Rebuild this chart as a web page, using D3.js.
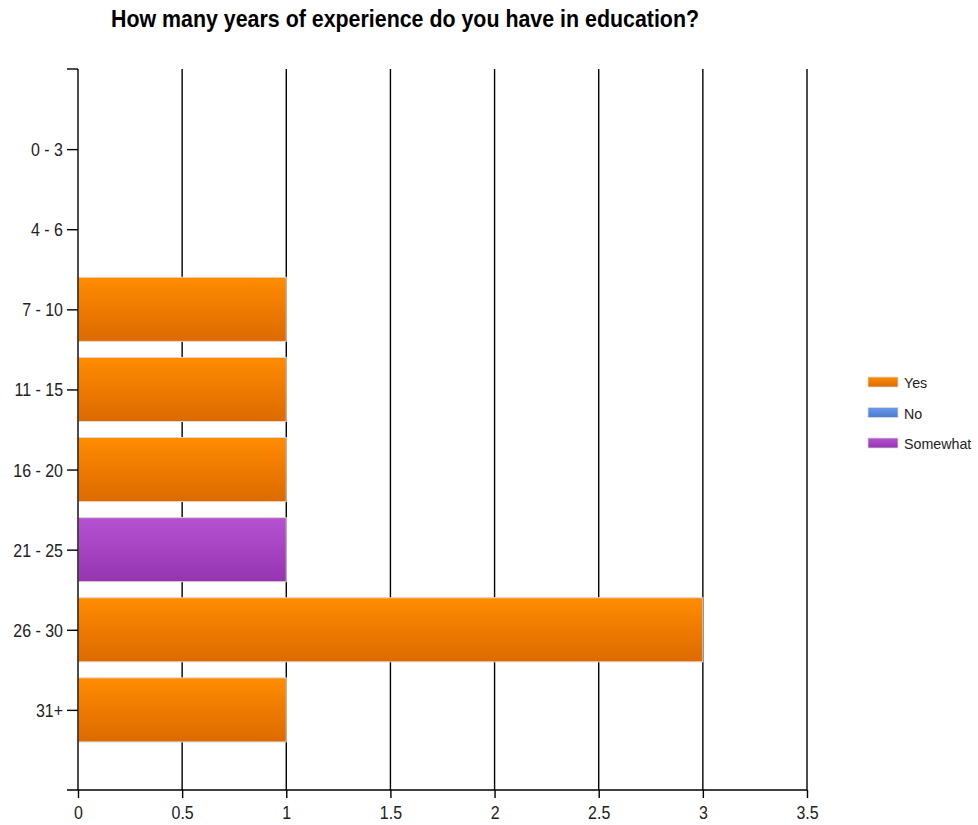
<!DOCTYPE html>
<html>
<head>
<meta charset="utf-8">
<script src="https://cdn.jsdelivr.net/npm/d3@7"></script>
<style>
  body { margin: 0; background: #fff; }
  svg { display: block; }
  text { font-family: "Liberation Sans", Arial, sans-serif; }
</style>
</head>
<body>
<svg id="chart" width="978" height="825"></svg>
<script>
const title = "How many years of experience do you have in education?";
const categories = ["0 - 3", "4 - 6", "7 - 10", "11 - 15", "16 - 20", "21 - 25", "26 - 30", "31+"];
const seriesNames = ["Yes", "No", "Somewhat"];
const yesValues = [0, 0, 1, 1, 1, 0, 3, 1];
const noValues = [0, 0, 0, 0, 0, 0, 0, 0];
const somewhatValues = [0, 0, 0, 0, 0, 1, 0, 0];
const xTicks = [0, 0.5, 1, 1.5, 2, 2.5, 3, 3.5];
const xMax = 3.5;

const colors = {
  Yes: ["#ff8c00", "#dc6a00"],
  No: ["#6a9ae8", "#4a7ad0"],
  Somewhat: ["#b652d2", "#9434b0"]
};

const rows = categories.map((c, i) => ({
  category: c, Yes: yesValues[i], No: noValues[i], Somewhat: somewhatValues[i]
}));

const svg = d3.select("#chart");
const mLeft = 78, mRight = 807, mTop = 69, mBottom = 790;
const squeeze = 0.84;

// horizontally condense text (the reference font is narrow)
function condense(sel, k) {
  sel.each(function () {
    const len = this.getComputedTextLength();
    d3.select(this).attr("textLength", len * k).attr("lengthAdjust", "spacingAndGlyphs");
  });
}

const x = d3.scaleLinear().domain([0, xMax]).range([mLeft, mRight]);
const y = d3.scalePoint().domain(categories).range([mTop, mBottom]).padding(1);
const barH = y.step() * 0.8;

// gradients
const defs = svg.append("defs");
seriesNames.forEach(s => {
  const g = defs.append("linearGradient").attr("id", "grad-" + s)
    .attr("x1", 0).attr("y1", 0).attr("x2", 0).attr("y2", 1);
  g.append("stop").attr("offset", "0%").attr("stop-color", colors[s][0]);
  g.append("stop").attr("offset", "100%").attr("stop-color", colors[s][1]);
});

// title
svg.append("text")
  .attr("x", 405).attr("y", 27)
  .attr("text-anchor", "middle")
  .attr("font-size", "24px").attr("font-weight", "bold")
  .attr("fill", "#000")
  .attr("textLength", 588).attr("lengthAdjust", "spacingAndGlyphs")
  .text(title);

// vertical grid lines
svg.append("g").selectAll("line")
  .data(xTicks.filter(t => t > 0))
  .join("line")
  .attr("x1", d => x(d)).attr("x2", d => x(d))
  .attr("y1", mTop).attr("y2", mBottom)
  .attr("stroke", "#000").attr("stroke-width", 1.4);

// stacked bars
const stack = d3.stack().keys(seriesNames);
const stacked = stack(rows);
const barG = svg.append("g");
stacked.forEach(layer => {
  barG.append("g").selectAll("rect")
    .data(layer.filter(d => d[1] - d[0] > 0))
    .join("rect")
    .attr("x", d => x(d[0]) + 0.5)
    .attr("y", d => y(d.data.category) - barH / 2)
    .attr("width", d => x(d[1]) - x(d[0]) - 0.5)
    .attr("height", barH)
    .attr("fill", `url(#grad-${layer.key})`)
    .attr("stroke", "#e2d6cc").attr("stroke-width", 1);
});

// x axis
const xAxis = d3.axisBottom(x).tickValues(xTicks)
  .tickFormat(d3.format("~g")).tickSizeInner(8).tickSizeOuter(0).tickPadding(3);
const gx = svg.append("g").attr("transform", `translate(0,${mBottom})`).call(xAxis);
gx.select(".domain").remove();
gx.append("line").attr("x1", mLeft - 11).attr("x2", mRight).attr("y1", 0).attr("y2", 0)
  .attr("stroke", "#000").attr("stroke-width", 1.4);
gx.selectAll(".tick line").attr("stroke", "#000").attr("stroke-width", 1.4);
gx.selectAll(".tick text").attr("font-size", "19px").attr("fill", "#222")
  .attr("font-family", "'Liberation Sans', Arial, sans-serif")
  .attr("y", 29).attr("dy", null)
  .call(condense, squeeze);

// y axis
const yAxis = d3.axisLeft(y).tickSizeInner(11).tickSizeOuter(0).tickPadding(4);
const gy = svg.append("g").attr("transform", `translate(${mLeft},0)`).call(yAxis);
gy.select(".domain").remove();
gy.append("line").attr("x1", 0).attr("x2", 0).attr("y1", mTop).attr("y2", mBottom)
  .attr("stroke", "#000").attr("stroke-width", 1.4);
gy.append("line").attr("x1", -11).attr("x2", 0).attr("y1", mTop).attr("y2", mTop)
  .attr("stroke", "#000").attr("stroke-width", 1.4);
gy.selectAll(".tick line").attr("stroke", "#000").attr("stroke-width", 1.4);
gy.selectAll(".tick text").attr("font-size", "19px").attr("fill", "#222")
  .attr("font-family", "'Liberation Sans', Arial, sans-serif")
  .attr("dy", "0.34em")
  .call(condense, squeeze);

// legend
const legend = svg.append("g");
seriesNames.forEach((s, i) => {
  const ly = 382 + i * 30.5;
  legend.append("rect").attr("x", 868).attr("y", ly - 5).attr("width", 30).attr("height", 10)
    .attr("fill", `url(#grad-${s})`).attr("stroke", "#ddd").attr("stroke-width", 0.8);
  legend.append("text").attr("x", 904).attr("y", ly + 6)
    .attr("font-size", "15px").attr("fill", "#222").text(s)
    .call(condense, 0.95);
});
</script>
</body>
</html>
